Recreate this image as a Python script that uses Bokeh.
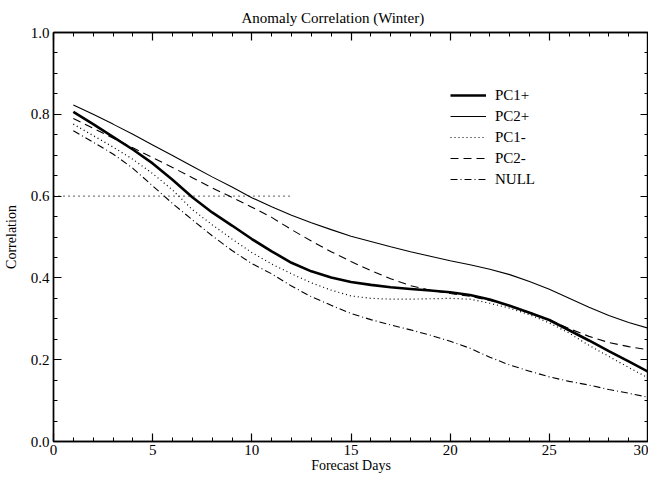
from bokeh.plotting import figure
from bokeh.models import (SingleIntervalTicker, LinearAxis, Range1d, Legend, LegendItem,
                          PrintfTickFormatter, Title, ColumnDataSource)
from bokeh.embed import file_html
from bokeh.resources import INLINE

# ---- data ----
days = list(range(1, 31))
pc1_plus = [0.806, 0.776, 0.745, 0.714, 0.680, 0.640, 0.597, 0.560, 0.528, 0.495,
            0.465, 0.437, 0.416, 0.401, 0.390, 0.383, 0.377, 0.373, 0.369, 0.365,
            0.358, 0.347, 0.332, 0.315, 0.297, 0.272, 0.247, 0.221, 0.196, 0.170]
pc2_plus = [0.823, 0.800, 0.776, 0.751, 0.725, 0.699, 0.673, 0.647, 0.622, 0.596,
            0.574, 0.553, 0.535, 0.518, 0.502, 0.489, 0.476, 0.464, 0.453, 0.442,
            0.432, 0.421, 0.408, 0.391, 0.372, 0.350, 0.328, 0.308, 0.291, 0.277]
pc1_minus = [0.776, 0.748, 0.720, 0.690, 0.655, 0.615, 0.567, 0.530, 0.495, 0.462,
             0.434, 0.410, 0.388, 0.370, 0.356, 0.350, 0.348, 0.348, 0.349, 0.350,
             0.348, 0.338, 0.326, 0.310, 0.290, 0.265, 0.235, 0.208, 0.181, 0.155]
pc2_minus = [0.790, 0.766, 0.742, 0.718, 0.694, 0.670, 0.645, 0.620, 0.597, 0.573,
             0.548, 0.518, 0.490, 0.464, 0.440, 0.418, 0.398, 0.381, 0.370, 0.362,
             0.355, 0.345, 0.332, 0.316, 0.297, 0.276, 0.257, 0.242, 0.232, 0.224]
null_ = [0.760, 0.732, 0.703, 0.668, 0.625, 0.582, 0.542, 0.503, 0.467, 0.435,
         0.410, 0.380, 0.354, 0.333, 0.313, 0.298, 0.285, 0.273, 0.260, 0.245,
         0.228, 0.206, 0.187, 0.172, 0.158, 0.147, 0.138, 0.127, 0.118, 0.108]
ref_x = [0, 12]
ref_y = [0.6, 0.6]

series_names = ["PC1+", "PC2+", "PC1-", "PC2-", "NULL"]
series_vals = [pc1_plus, pc2_plus, pc1_minus, pc2_minus, null_]
series_width = [2.6, 1.1, 1.2, 1.1, 1.1]
series_dash = ["solid", "solid", "1 3", "8 5", "7 3 1 3"]

FONT = "Liberation Serif"

p = figure(frame_width=595, frame_height=409, output_backend="svg", toolbar_location=None,
           x_range=Range1d(0, 30), y_range=Range1d(0, 1.0),
           min_border_left=0, min_border_right=0, min_border_top=0, min_border_bottom=0)
p.title = Title(text="Anomaly Correlation (Winter)", align="left", offset=188,
                text_font=FONT, text_font_size="15px", text_font_style="normal",
                text_color="black", standoff=14)
p.grid.visible = False
p.background_fill_color = "white"
p.border_fill_color = "white"
p.outline_line_color = "black"
p.outline_line_width = 1.4

xt = SingleIntervalTicker(interval=5, num_minor_ticks=5)
yt = SingleIntervalTicker(interval=0.2, num_minor_ticks=4)

def style_axis(ax, labels=True):
    ax.axis_line_color = "black"
    ax.axis_line_width = 1.4
    ax.major_tick_line_color = "black"
    ax.minor_tick_line_color = "black"
    ax.major_tick_line_width = 1.2
    ax.minor_tick_line_width = 1.0
    ax.major_tick_in = 8
    ax.major_tick_out = 0
    ax.minor_tick_in = 4
    ax.minor_tick_out = 0
    ax.major_label_text_font = FONT
    ax.major_label_text_font_size = "15px"
    ax.major_label_text_color = "black"
    ax.axis_label_text_font = FONT
    ax.axis_label_text_font_size = "14px"
    ax.axis_label_text_font_style = "normal"
    ax.axis_label_text_color = "black"
    if not labels:
        ax.major_label_text_font_size = "0px"
        ax.major_label_text_alpha = 0
        ax.major_label_standoff = 0

xa = p.xaxis[0]
xa.ticker = xt
xa.axis_label = "Forecast Days"
xa.major_label_standoff = 3
xa.axis_label_standoff = 0
style_axis(xa)

ya = p.yaxis[0]
ya.ticker = yt
ya.formatter = PrintfTickFormatter(format="%.1f")
ya.axis_label = "Correlation"
ya.major_label_standoff = 4
ya.axis_label_standoff = 9
style_axis(ya)

top = LinearAxis(ticker=xt)
style_axis(top, labels=False)
p.add_layout(top, "above")
right = LinearAxis(ticker=yt)
style_axis(right, labels=False)
p.add_layout(right, "right")

items = []
for name, vals, w, d in zip(series_names, series_vals, series_width, series_dash):
    src = ColumnDataSource(dict(x=days, y=vals))
    r = p.line("x", "y", source=src, line_color="black", line_width=w, line_dash=d)
    items.append(LegendItem(label=name, renderers=[r]))

p.line(ref_x, ref_y, line_color="black", line_width=1.2, line_dash="1 4")

legend = Legend(items=items, location=(397, 252), orientation="vertical",
                label_text_font=FONT, label_text_font_size="15px", label_text_color="black",
                glyph_width=36, glyph_height=20, label_standoff=9, spacing=1,
                padding=0, margin=0, border_line_alpha=0, background_fill_alpha=0)
p.add_layout(legend, "center")

open("out.html", "w").write(file_html(p, INLINE))
